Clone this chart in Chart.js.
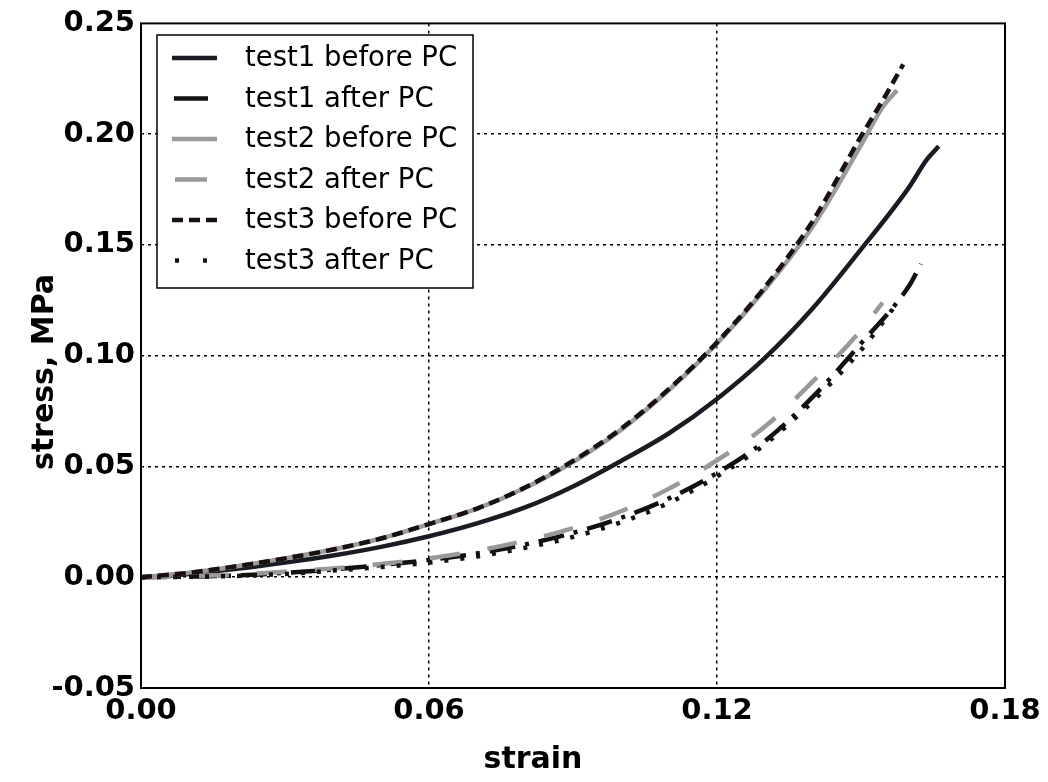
<!DOCTYPE html>
<html><head><meta charset="utf-8">
<script src="https://cdn.jsdelivr.net/npm/chart.js@4.4.1/dist/chart.umd.min.js"></script>
<style>html,body{margin:0;padding:0;background:#fff;} canvas{display:block;}</style>
</head><body>
<canvas id="c" width="1048" height="782"></canvas>
<script>
// ---- data ----
const seriesNames = ['test1 before PC','test1 after PC','test2 before PC','test2 after PC','test3 before PC','test3 after PC'];

const test1BeforeStrain = [0,0.01,0.02,0.03,0.04,0.05,0.06,0.07,0.08,0.09,0.10,0.11,0.12,0.13,0.14,0.15,0.16,0.1637,0.1662];
const test1BeforeStress = [0,0.0015,0.0038,0.0066,0.0098,0.0137,0.0185,0.0243,0.0315,0.041,0.0525,0.065,0.0805,0.099,0.1215,0.148,0.176,0.1885,0.1945];

const test1AfterStrain = [0,0.01,0.02,0.03,0.04,0.05,0.06,0.07,0.08,0.09,0.10,0.11,0.12,0.13,0.14,0.15,0.16,0.1625];
const test1AfterStress = [0,0.0003,0.0008,0.002,0.0035,0.0055,0.0078,0.0107,0.0148,0.0200,0.0268,0.0356,0.0470,0.0615,0.0815,0.1055,0.1315,0.1414];

const test2BeforeStrain = [0,0.01,0.02,0.03,0.04,0.05,0.06,0.07,0.08,0.09,0.10,0.11,0.12,0.13,0.14,0.15,0.1546,0.1575];
const test2BeforeStress = [0,0.002,0.005,0.0085,0.0125,0.0175,0.024,0.031,0.0403,0.052,0.0665,0.0845,0.1055,0.130,0.1585,0.195,0.2125,0.2198];

const test2AfterStrain = [0,0.01,0.02,0.03,0.04,0.05,0.06,0.07,0.08,0.09,0.10,0.11,0.12,0.13,0.14,0.15,0.1545];
const test2AfterStress = [0,0.0005,0.0012,0.0025,0.004,0.006,0.0085,0.012,0.0165,0.0222,0.0298,0.040,0.0528,0.068,0.0885,0.1115,0.124];

const test3BeforeStrain = [0,0.01,0.02,0.03,0.04,0.05,0.06,0.07,0.08,0.09,0.10,0.11,0.12,0.13,0.14,0.15,0.155,0.1588];
const test3BeforeStress = [0,0.002,0.005,0.0085,0.0125,0.0175,0.024,0.031,0.0405,0.0525,0.067,0.085,0.106,0.131,0.161,0.199,0.217,0.2315];

const test3AfterStrain = [0,0.01,0.02,0.03,0.04,0.05,0.06,0.07,0.08,0.09,0.10,0.11,0.12,0.13,0.14,0.15,0.158];
const test3AfterStress = [0,0.0002,0.0006,0.0015,0.003,0.0046,0.0066,0.0094,0.0133,0.0182,0.0248,0.0336,0.0455,0.0600,0.0795,0.1025,0.125];

const xTickValues = [0, 0.06, 0.12, 0.18];
const yTickValues = [-0.05, 0, 0.05, 0.10, 0.15, 0.20, 0.25];
const xAxisTitle = 'strain';
const yAxisTitle = 'stress, MPa';

// ---- styles ----
const styles = [
  {color:'#1b1b24', dash:[], width:4.5, legendDash:[], legendFrom:172, legendTo:217},
  {color:'#111111', dash:[26,10,4,10], width:4.5, legendDash:[], legendFrom:174, legendTo:208},
  {color:'#9a9c9a', dash:[], width:4.5, legendDash:[], legendFrom:172, legendTo:217},
  {color:'#999999', dash:[30,28], width:4.5, legendDash:[], legendFrom:175, legendTo:207},
  {color:'#1a1010', dash:[11,6], width:4.5, legendDash:[11,6], legendFrom:172, legendTo:217},
  {color:'#1a1010', dash:[4,12], width:4.5, legendDash:[4,24], legendFrom:175, legendTo:209}
];
const xs = [test1BeforeStrain,test1AfterStrain,test2BeforeStrain,test2AfterStrain,test3BeforeStrain,test3AfterStrain];
const ys = [test1BeforeStress,test1AfterStress,test2BeforeStress,test2AfterStress,test3BeforeStress,test3AfterStress];

const datasets = seriesNames.map((name,i)=>({
  label: name,
  data: xs[i].map((x,j)=>({x:x, y:ys[i][j]})),
  borderColor: styles[i].color,
  borderWidth: styles[i].width,
  borderDash: styles[i].dash,
  borderCapStyle: 'butt',
  pointRadius: 0,
  fill: false,
  cubicInterpolationMode: 'monotone',
  order: seriesNames.length - 1 - i
}));

const FONT = '"DejaVu Sans", sans-serif';

const framePlugin = {
  id: 'frameAndLegend',
  afterDraw(chart) {
    const {ctx, chartArea:a} = chart;
    ctx.save();
    ctx.lineWidth = 2;
    ctx.strokeStyle = '#000';
    ctx.setLineDash([]);
    ctx.strokeRect(a.left, a.top, a.right - a.left, a.bottom - a.top);

    // axis titles
    ctx.fillStyle = '#000';
    ctx.font = 'bold 30px ' + FONT;
    ctx.textAlign = 'center';
    ctx.textBaseline = 'middle';
    ctx.fillText(xAxisTitle, 533, 760);
    ctx.save();
    ctx.translate(45, 372);
    ctx.rotate(-Math.PI/2);
    ctx.fillText(yAxisTitle, 0, 0);
    ctx.restore();

    // legend
    const bx = 157, by = 35, bw = 316, bh = 253;
    ctx.fillStyle = '#fff';
    ctx.fillRect(bx, by, bw, bh);
    ctx.lineWidth = 1.5;
    ctx.strokeStyle = '#000';
    ctx.strokeRect(bx, by, bw, bh);
    ctx.font = '27.5px ' + FONT;
    ctx.textAlign = 'left';
    ctx.textBaseline = 'middle';
    chart.data.datasets.forEach((ds,i)=>{
      const y = 58 + i*40.5;
      const st = styles[i];
      ctx.save();
      ctx.strokeStyle = st.color;
      ctx.lineWidth = st.width;
      ctx.lineCap = 'butt';
      ctx.setLineDash(st.legendDash);
      ctx.beginPath();
      ctx.moveTo(st.legendFrom, y);
      ctx.lineTo(st.legendTo, y);
      ctx.stroke();
      ctx.restore();
      ctx.fillStyle = '#000';
      ctx.fillText(ds.label, 245, y + 1);
    });
    ctx.restore();
  }
};

const gridColor = (ctx, lo, hi) => {
  const v = ctx.tick ? ctx.tick.value : null;
  if (v === null) return 'rgba(0,0,0,0)';
  if (Math.abs(v - lo) < 1e-9 || Math.abs(v - hi) < 1e-9) return 'rgba(0,0,0,0)';
  return '#000';
};

new Chart(document.getElementById('c'), {
  type: 'line',
  data: { datasets },
  options: {
    responsive: false,
    animation: false,
    devicePixelRatio: 1,
    layout: { padding: { left: 0, top: 21, right: 43, bottom: 0 } },
    plugins: { legend: { display: false }, tooltip: { enabled: false } },
    scales: {
      x: {
        type: 'linear',
        min: 0, max: 0.18,
        afterBuildTicks: s => { s.ticks = xTickValues.map(v => ({value: v})); },
        afterFit: s => { s.height = 94; },
        ticks: {
          callback: v => Number(v).toFixed(2),
          font: { family: FONT, size: 29, weight: 'bold' },
          color: '#000',
          padding: 6,
          maxRotation: 0,
          autoSkip: false
        },
        grid: { color: c => gridColor(c, 0, 0.18), lineWidth: 1.5, drawTicks: false },
        border: { display: false, dash: [3,4] }
      },
      y: {
        type: 'linear',
        min: -0.05, max: 0.25,
        afterBuildTicks: s => { s.ticks = yTickValues.map(v => ({value: v})); },
        afterFit: s => { s.width = 141; },
        ticks: {
          callback: v => Number(v).toFixed(2),
          font: { family: FONT, size: 29, weight: 'bold' },
          color: '#000',
          padding: 6,
          autoSkip: false
        },
        grid: { color: c => gridColor(c, -0.05, 0.25), lineWidth: 1.5, drawTicks: false },
        border: { display: false, dash: [3,4] }
      }
    }
  },
  plugins: [framePlugin]
});
</script>
</body></html>
